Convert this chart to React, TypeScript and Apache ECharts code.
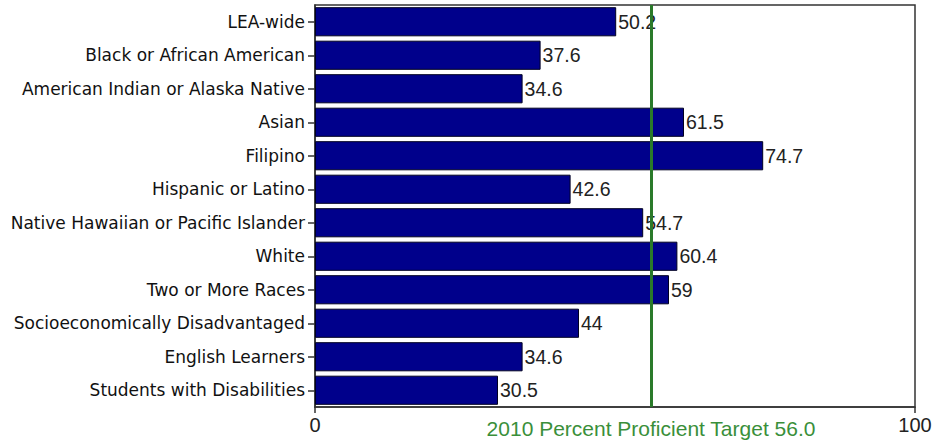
import React, { useEffect, useRef } from "react";
import * as echarts from "echarts";

const categories = [
  "LEA-wide",
  "Black or African American",
  "American Indian or Alaska Native",
  "Asian",
  "Filipino",
  "Hispanic or Latino",
  "Native Hawaiian or Pacific Islander",
  "White",
  "Two or More Races",
  "Socioeconomically Disadvantaged",
  "English Learners",
  "Students with Disabilities",
];
const values = [50.2, 37.6, 34.6, 61.5, 74.7, 42.6, 54.7, 60.4, 59, 44, 34.6, 30.5];
const targetValue = 56.0;
const targetLabel = "2010 Percent Proficient Target 56.0";
const xMin = 0;
const xMax = 100;

export default function App() {
  const ref = useRef<HTMLDivElement>(null);
  useEffect(() => {
    if (!ref.current) return;
    const chart = echarts.init(ref.current, null, { renderer: "svg" });
    chart.setOption({
      animation: false,
      backgroundColor: "#ffffff",
      grid: {
        left: 315,
        right: 22,
        top: 5,
        bottom: 37,
        show: true,
        borderColor: "#333333",
        borderWidth: 1.5,
        containLabel: false,
      },
      xAxis: {
        type: "value",
        min: xMin,
        max: xMax,
        interval: 100,
        splitLine: { show: false },
        axisLine: { show: true, lineStyle: { color: "#333333", width: 1.5 } },
        axisTick: { show: true, length: 6, lineStyle: { color: "#333333", width: 1.5 } },
        axisLabel: {
          color: "#222222",
          fontFamily: "Liberation Sans",
          fontSize: 20,
          margin: 8,
        },
      },
      yAxis: {
        type: "category",
        data: categories,
        inverse: true,
        axisLine: { show: true, lineStyle: { color: "#333333", width: 1.5 } },
        axisTick: { show: true, length: 7, alignWithLabel: true, lineStyle: { color: "#333333", width: 1.5 } },
        axisLabel: {
          color: "#111111",
          fontFamily: "DejaVu Sans",
          fontSize: 17,
          margin: 10,
        },
      },
      series: [
        {
          type: "bar",
          data: values,
          barCategoryGap: "13%",
          itemStyle: { color: "#00008b", borderColor: "#000022", borderWidth: 1 },
          label: {
            show: true,
            position: "right",
            distance: 2,
            color: "#222222",
            fontFamily: "Liberation Sans",
            fontSize: 19.5,
          },
          markLine: {
            silent: true,
            symbol: "none",
            data: [{ xAxis: targetValue }],
            lineStyle: { color: "#2a7a2a", width: 3, type: "solid" },
            label: {
              show: true,
              position: "end",
              distance: 11,
              formatter: targetLabel,
              color: "#3a8f3a",
              fontFamily: "Liberation Sans",
              fontSize: 21,
            },
          },
        },
      ],
    });
    return () => chart.dispose();
  }, []);
  return (
    <div
      ref={ref}
      style={{ position: "absolute", left: 0, top: 0, width: 937, height: 444 }}
    />
  );
}
